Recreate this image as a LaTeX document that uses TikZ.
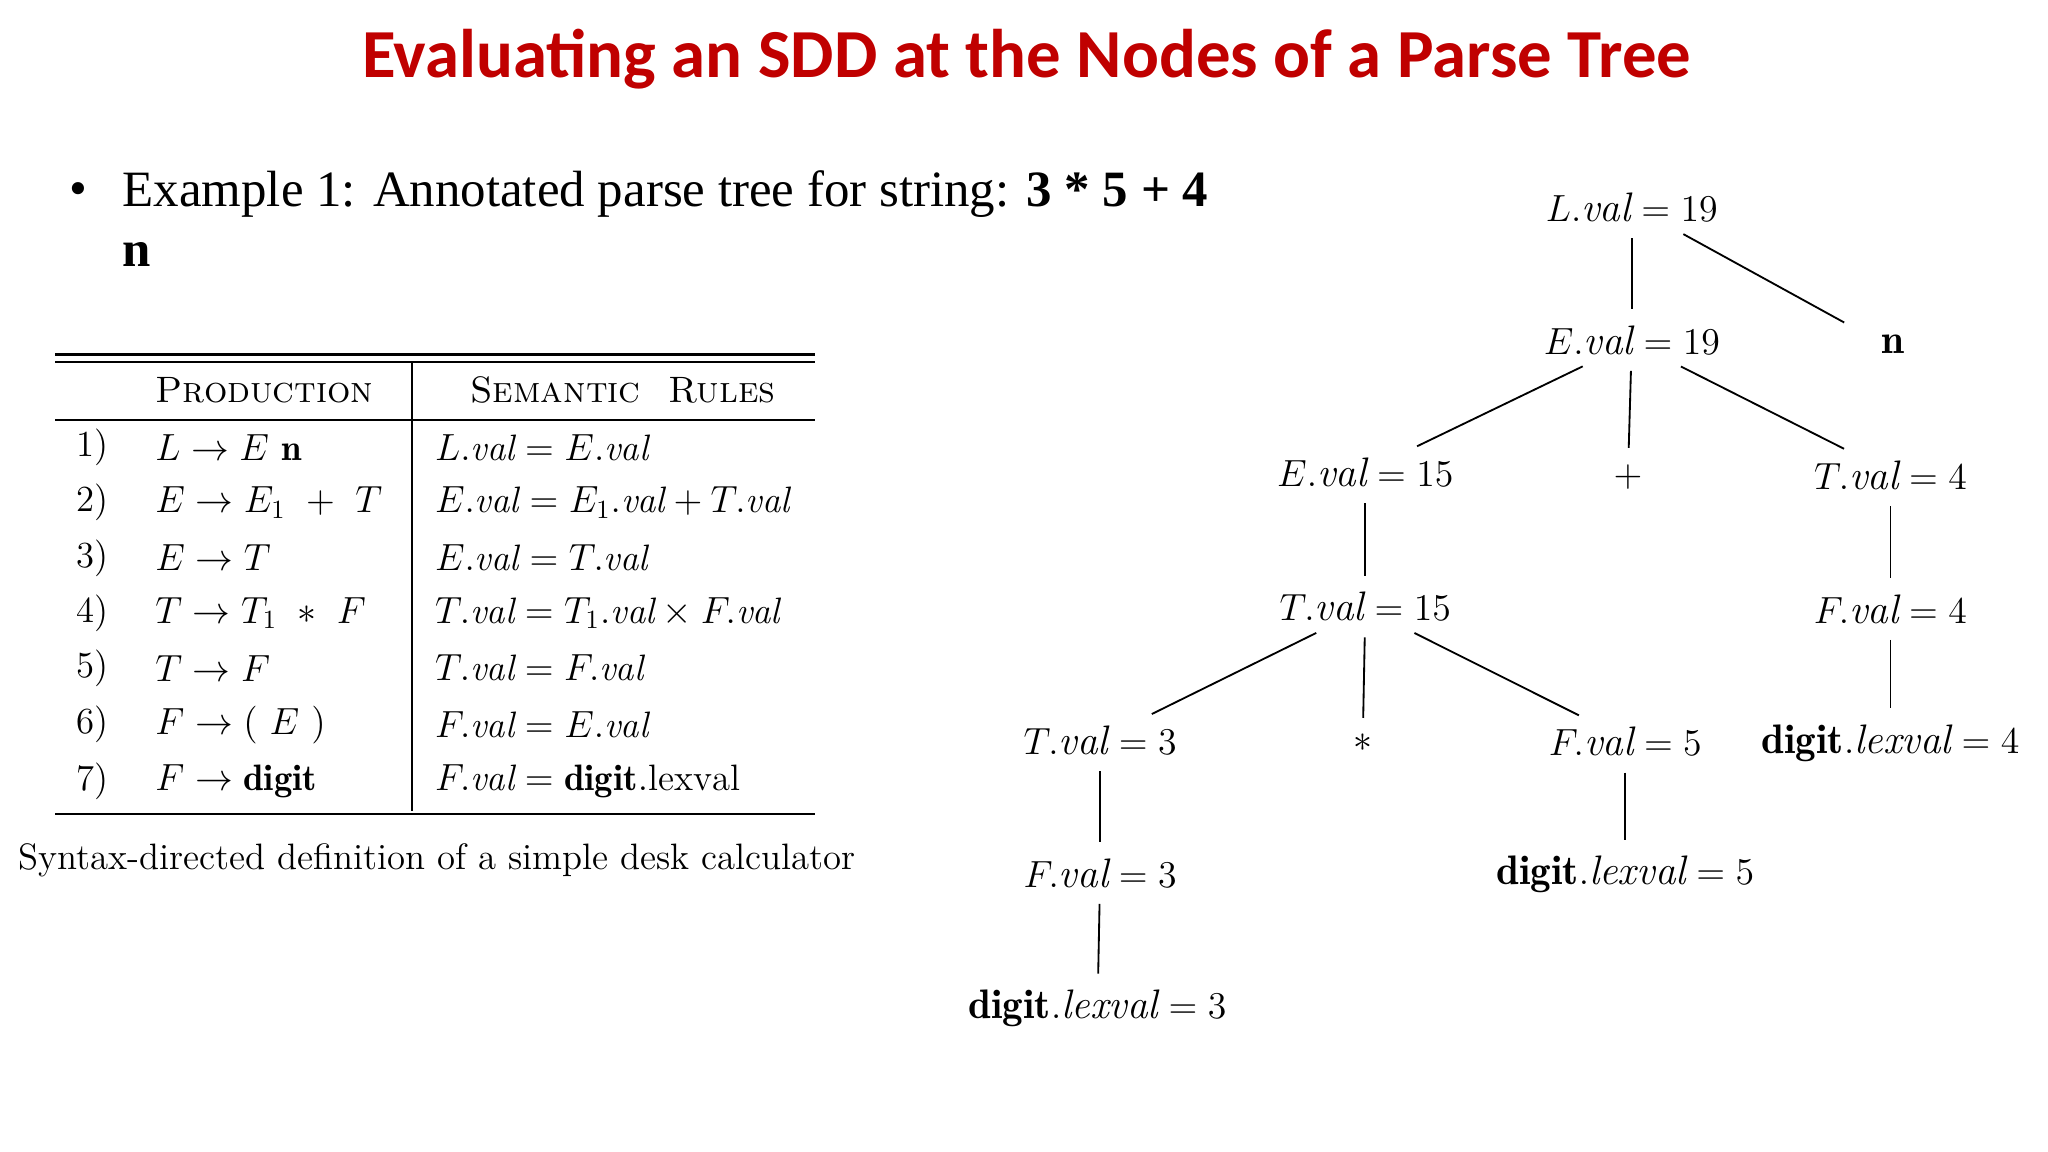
\documentclass[tikz,border=0pt]{standalone}
\usepackage{fontspec}
\newfontfamily\titlefont{Carlito}
\newfontfamily\timesfont{Liberation Serif}
\definecolor{titlered}{RGB}{192,0,0}
\begin{document}
\begin{tikzpicture}[x=0.5pt,y=-0.5pt,
  tn/.style={font=\fontsize{15.7}{18}\selectfont, inner sep=3pt},
  ed/.style={line width=0.7pt, shorten <=3pt, shorten >=3pt},
  tb/.style={font=\fontsize{14}{16}\selectfont, anchor=west, inner sep=0pt},
  rl/.style={line width=0.8pt}]
\useasboundingbox (0,0) rectangle (1560,877.5);
\node[font=\titlefont\bfseries\fontsize{26.2}{30}\selectfont, text=titlered] (title) at (782,45) {Evaluating an SDD at the Nodes of a Parse Tree};
\node[font=\timesfont\fontsize{19.4}{24}\selectfont, anchor=west] (bul) at (46,148) {\textbullet};
\node[font=\timesfont\fontsize{19.4}{24}\selectfont, anchor=west, inner sep=0pt] (ex) at (93,148) {Example 1: Annotated parse tree for string: \textbf{3 * 5 + 4}};
\node[font=\timesfont\fontsize{19.4}{24}\selectfont\bfseries, anchor=west, inner sep=0pt] (exn) at (93,194) {n};
% table
\draw[rl] (42,270) -- (621,270);
\draw[rl] (42,276) -- (621,276);
\draw[rl] (42,320) -- (621,320);
\draw[rl] (42,620) -- (621,620);
\draw[rl] (314,276) -- (314,618);
\node[tb] (h1) at (118,297) {\textsc{Production}};
\node[tb] (h2) at (358,297) {\textsc{Semantic\ \ Rules}};
\foreach \n/\y/\p/\s in {
 1/341/{$L\to E\ \mathbf{n}$}/{$L.\mathit{val}=E.\mathit{val}$},
 2/383/{$E\to E_1\ +\ T$}/{$E.\mathit{val}=E_1.\mathit{val}+T.\mathit{val}$},
 3/425/{$E\to T$}/{$E.\mathit{val}=T.\mathit{val}$},
 4/467/{$T\to T_1\ *\ F$}/{$T.\mathit{val}=T_1.\mathit{val}\times F.\mathit{val}$},
 5/509/{$T\to F$}/{$T.\mathit{val}=F.\mathit{val}$},
 6/552/{$F\to (\ E\ )$}/{$F.\mathit{val}=E.\mathit{val}$},
 7/595/{$F\to \mathbf{digit}$}/{$F.\mathit{val}=\mathbf{digit}.\mathrm{lexval}$}}{
 \node[tb] (num\n) at (58,\y) {\n)};
 \node[tb] (pr\n) at (118,\y) {\p};
 \node[tb] (sr\n) at (331,\y) {\s};
}
\node[font=\fontsize{14}{16}\selectfont] (cap) at (333,655) {Syntax-directed definition of a simple desk calculator};
% tree
\node[tn] (L) at (1243,158) {$L.\mathit{val}=19$};
\node[tn] (n) at (1442,262) {$\mathbf{n}$};
\node[tn] (E1) at (1243,259) {$E.\mathit{val}=19$};
\node[tn] (E2) at (1040,360) {$E.\mathit{val}=15$};
\node[tn] (plus) at (1240,363) {$+$};
\node[tn] (T4) at (1440,362) {$T.\mathit{val}=4$};
\node[tn] (T15) at (1040,462) {$T.\mathit{val}=15$};
\node[tn] (F4) at (1440,464) {$F.\mathit{val}=4$};
\node[tn] (T3) at (838,564) {$T.\mathit{val}=3$};
\node[tn] (star) at (1038,566) {$*$};
\node[tn] (F5) at (1238,565) {$F.\mathit{val}=5$};
\node[tn] (d4) at (1440,566) {$\mathbf{digit}.\mathit{lexval}=4$};
\node[tn] (F3) at (838,665) {$F.\mathit{val}=3$};
\node[tn] (d5) at (1238,666) {$\mathbf{digit}.\mathit{lexval}=5$};
\node[tn] (d3) at (836,768) {$\mathbf{digit}.\mathit{lexval}=3$};
\draw[ed] (L) -- (E1);
\draw[ed] ([xshift=17pt]L.south) -- ([xshift=-16pt]n.north);
\draw[ed] ([xshift=-16pt]E1.south) -- ([xshift=17pt]E2.north);
\draw[ed] (E1) -- (plus);
\draw[ed] ([xshift=16pt]E1.south) -- ([xshift=-15pt]T4.north);
\draw[ed] (E2) -- (T15);
\draw[ed] (T4) -- (F4);
\draw[ed] (F4) -- (d4);
\draw[ed] ([xshift=-16pt]T15.south) -- ([xshift=17pt]T3.north);
\draw[ed] (T15) -- (star);
\draw[ed] ([xshift=16pt]T15.south) -- ([xshift=-15pt]F5.north);
\draw[ed] (T3) -- (F3);
\draw[ed] (F3) -- (d3);
\draw[ed] (F5) -- (d5);
\end{tikzpicture}
\end{document}
